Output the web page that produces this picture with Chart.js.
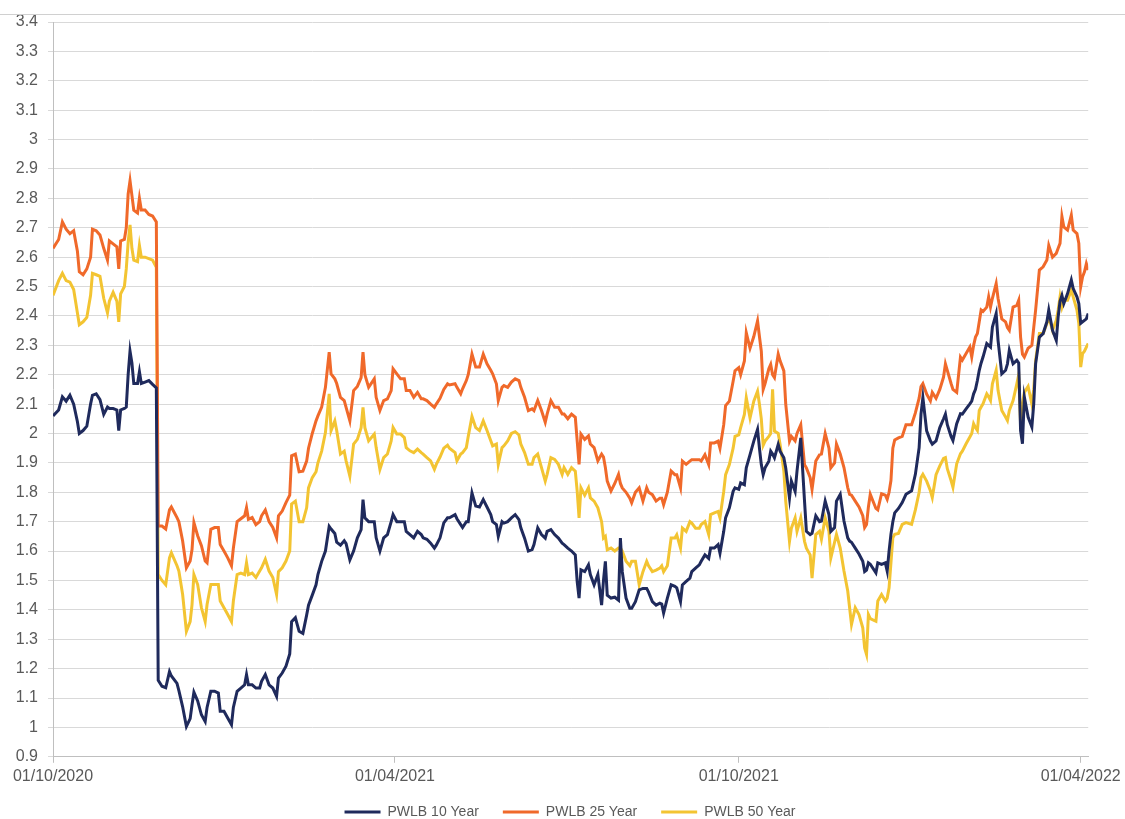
<!DOCTYPE html>
<html lang="en">
<head>
<meta charset="UTF-8" />
<title>PWLB rates</title>
<script src="https://cdn.jsdelivr.net/npm/chart.js"></script>
<style>
  body { margin: 0; background: #fff; }
  #wrap { position: relative; width: 1125px; height: 819px; }
  #topline { position: absolute; left: 0; top: 14px; width: 1125px; height: 1px; background: #d0d0d0; }
</style>
</head>
<body>
<div id="wrap">
  <div id="topline"></div>
  <canvas id="chart" width="1125" height="819"></canvas>
</div>
<script>
// days counted from 01/10/2020
const startDate = '01/10/2020';
const days = [
  0, 3, 5, 7, 9, 11, 13, 14, 16, 18, 20, 21, 23, 25, 27, 29, 30, 32, 34, 35, 36, 38, 39, 40, 41, 42, 43, 45, 46, 47, 49, 51, 53, 55,
  56, 58, 60, 62, 63, 66, 67, 69, 71, 73, 74, 75, 77, 79, 81, 82, 84, 86, 88, 89, 91, 93, 95, 96, 98, 100, 102, 103, 104, 106, 108, 110, 111, 113, 115, 117, 119, 120, 122, 124, 126, 127, 129, 131,
  133, 135, 136, 138, 140, 141, 143, 145, 147, 148, 150, 151, 153, 155, 156, 158, 160, 162, 164, 165, 166, 168, 171, 172, 174, 176, 178, 180, 181, 183, 185, 187, 188, 190, 192, 194, 196, 197, 199, 201, 203, 204, 206, 208, 210, 211, 214, 215, 217, 218, 220, 221, 223,
  225, 227, 229, 231, 233, 234, 236, 237, 239, 240, 242, 244, 246, 248, 249, 251, 253, 255, 256, 258, 260, 262, 263, 265, 267, 269, 271, 272, 274, 276, 278, 279, 280, 281, 283, 285, 286, 288, 290, 292, 293, 294, 295, 297, 299, 301, 302, 303, 305, 307, 308, 310, 312, 314, 316, 317, 319, 321,
  323, 324, 325, 327, 329, 331, 332, 334, 335, 337, 339, 340, 342, 344, 345, 347, 349, 350, 352, 354, 355, 357, 358, 360, 362, 363, 365, 366, 368, 369, 371, 373, 375, 376, 377, 378, 379, 381, 382, 383, 384, 386, 387, 389, 390, 392, 393, 395, 396, 398, 400, 401, 403, 404, 406, 408, 409, 411, 413, 414, 416, 417,
  419, 421, 423, 424, 425, 427, 429, 431, 432, 433, 434, 435, 438, 439, 441, 443, 444, 445, 446, 447, 448, 450, 452, 454, 457, 459, 461, 462, 463, 465, 467, 468, 470, 472,
  474, 475, 476, 478, 479, 481, 483, 484, 486, 488, 489, 490, 491, 492, 493, 494, 495, 497, 498, 499, 500, 502, 503, 505, 507, 508, 509, 511, 513, 514, 515, 516, 517, 519, 521, 522, 523, 525, 527, 529, 530, 532, 534, 535, 536, 537, 538, 540, 542, 543, 545, 546, 547, 548, 549, 550, 551
];

const pwlb10 = [
  2.06, 2.08, 2.125, 2.11, 2.13, 2.10, 2.04, 2.00, 2.01, 2.025, 2.10, 2.13, 2.135, 2.115, 2.065, 2.09, 2.085, 2.085, 2.08, 2.01, 2.08, 2.085, 2.09, 2.20, 2.28, 2.24, 2.17, 2.17, 2.21, 2.17, 2.175, 2.18, 2.167, 2.155,
  1.16, 1.14, 1.135, 1.19, 1.175, 1.15, 1.125, 1.07, 1.003, 1.03, 1.077, 1.12, 1.09, 1.043, 1.02, 1.068, 1.123, 1.123, 1.117, 1.055, 1.055, 1.032, 1.009, 1.068, 1.123, 1.134, 1.145, 1.18, 1.145, 1.145, 1.134, 1.134, 1.157, 1.18, 1.145, 1.134, 1.106, 1.168, 1.185, 1.208, 1.25, 1.36, 1.373, 1.327,
  1.32, 1.382, 1.416, 1.45, 1.485, 1.52, 1.565, 1.60, 1.684, 1.675, 1.66, 1.63, 1.62, 1.635, 1.625, 1.57, 1.60, 1.645, 1.673, 1.775, 1.713, 1.70, 1.70, 1.645, 1.60, 1.645, 1.656, 1.70, 1.724, 1.70, 1.70, 1.70, 1.667, 1.656, 1.645, 1.667, 1.656, 1.645, 1.64, 1.627, 1.61, 1.62, 1.645, 1.696, 1.713, 1.713, 1.724, 1.71, 1.69, 1.68, 1.70, 1.70, 1.798,
  1.753, 1.75, 1.775, 1.75, 1.724, 1.70, 1.69, 1.65, 1.70, 1.695, 1.70, 1.713, 1.724, 1.707, 1.679, 1.644, 1.60, 1.605, 1.622, 1.679, 1.656, 1.644, 1.667, 1.673, 1.656, 1.644, 1.627, 1.622, 1.61, 1.60, 1.587, 1.496, 1.44, 1.536, 1.53, 1.553, 1.52, 1.485, 1.52, 1.416, 1.50, 1.565, 1.45, 1.44, 1.443, 1.433, 1.644, 1.53, 1.44, 1.405, 1.405, 1.428, 1.468, 1.473, 1.473, 1.46, 1.428, 1.416,
  1.423, 1.42, 1.389, 1.44, 1.485, 1.48, 1.475, 1.428, 1.485, 1.497, 1.508, 1.53, 1.542, 1.553, 1.565, 1.587, 1.575, 1.61, 1.61, 1.622, 1.593, 1.667, 1.713, 1.747, 1.803, 1.815, 1.81, 1.832, 1.826, 1.883, 1.928, 1.974, 2.014, 1.95, 1.894, 1.86, 1.883, 1.906, 1.94, 1.93, 1.917, 1.963, 1.94, 1.917, 1.883, 1.78, 1.838, 1.803, 1.872, 1.985, 1.77, 1.667, 1.656, 1.66, 1.72, 1.70, 1.702, 1.77, 1.724, 1.667, 1.68, 1.77,
  1.793, 1.702, 1.645, 1.634, 1.63, 1.61, 1.59, 1.565, 1.53, 1.535, 1.56, 1.555, 1.526, 1.56, 1.555, 1.56, 1.532, 1.60, 1.657, 1.70, 1.73, 1.745, 1.765, 1.793, 1.805, 1.861, 1.952, 2.066, 2.122, 2.009, 1.975, 1.964, 1.975, 2.02,
  2.05, 2.066, 2.03, 1.99, 1.976, 2.033, 2.067, 2.066, 2.084, 2.101, 2.11, 2.135, 2.15, 2.18, 2.215, 2.24, 2.26, 2.306, 2.30, 2.294, 2.362, 2.408, 2.317, 2.203, 2.215, 2.237, 2.283, 2.237, 2.249, 2.24, 2.01, 1.965, 2.124, 2.056, 2.022, 2.101, 2.237, 2.328, 2.34, 2.38, 2.42, 2.351, 2.317, 2.397, 2.45, 2.47, 2.442, 2.476, 2.522, 2.493, 2.465, 2.442, 2.375, 2.38, 2.385, 2.39, 2.408
];

const pwlb25 = [
  2.63, 2.66, 2.72, 2.695, 2.68, 2.69, 2.62, 2.55, 2.54, 2.56, 2.60, 2.695, 2.69, 2.675, 2.63, 2.59, 2.655, 2.645, 2.635, 2.56, 2.655, 2.66, 2.70, 2.815, 2.86, 2.81, 2.76, 2.75, 2.80, 2.76, 2.76, 2.745, 2.74, 2.72,
  1.685, 1.685, 1.675, 1.74, 1.75, 1.714, 1.70, 1.634, 1.543, 1.566, 1.605, 1.697, 1.652, 1.618, 1.566, 1.56, 1.674, 1.68, 1.68, 1.622, 1.60, 1.577, 1.55, 1.61, 1.70, 1.71, 1.72, 1.748, 1.708, 1.714, 1.69, 1.70, 1.72, 1.74, 1.70, 1.68, 1.645, 1.72, 1.736, 1.765, 1.79, 1.924, 1.93, 1.87,
  1.872, 1.906, 1.95, 2.0, 2.043, 2.06, 2.09, 2.157, 2.277, 2.203, 2.186, 2.17, 2.123, 2.112, 2.089, 2.043, 2.146, 2.16, 2.19, 2.277, 2.20, 2.157, 2.186, 2.123, 2.078, 2.112, 2.118, 2.146, 2.22, 2.203, 2.186, 2.186, 2.146, 2.146, 2.123, 2.14, 2.118, 2.118, 2.112, 2.10, 2.089, 2.10, 2.12, 2.15, 2.169, 2.165, 2.169, 2.157, 2.135, 2.152, 2.18, 2.20, 2.27,
  2.226, 2.226, 2.27, 2.237, 2.215, 2.203, 2.169, 2.112, 2.157, 2.163, 2.157, 2.175, 2.186, 2.18, 2.157, 2.123, 2.078, 2.084, 2.078, 2.112, 2.078, 2.038, 2.066, 2.112, 2.089, 2.089, 2.066, 2.066, 2.05, 2.066, 2.055, 1.975, 1.895, 1.998, 1.98, 1.992, 1.964, 1.952, 1.907, 1.93, 1.92, 1.884, 1.838, 1.804, 1.83, 1.861, 1.83, 1.815, 1.80, 1.78, 1.764, 1.80, 1.815, 1.77, 1.815, 1.80, 1.792, 1.77,
  1.78, 1.78, 1.758, 1.80, 1.872, 1.86, 1.86, 1.815, 1.906, 1.895, 1.906, 1.911, 1.911, 1.911, 1.906, 1.928, 1.894, 1.968, 1.968, 1.974, 1.95, 2.03, 2.095, 2.11, 2.178, 2.213, 2.224, 2.20, 2.247, 2.343, 2.29, 2.33, 2.383, 2.33, 2.28, 2.15, 2.17, 2.22, 2.235, 2.20, 2.19, 2.27, 2.247, 2.213, 2.10, 1.974, 1.99, 1.975, 2.0, 2.03, 1.894, 1.883, 1.85, 1.81, 1.906, 1.928, 1.93, 2.0, 1.95, 1.883, 1.90, 1.964,
  1.93, 1.884, 1.816, 1.793, 1.79, 1.77, 1.75, 1.72, 1.68, 1.69, 1.75, 1.793, 1.745, 1.74, 1.795, 1.79, 1.776, 1.80, 1.84, 1.95, 1.978, 1.985, 1.99, 2.03, 2.03, 2.07, 2.12, 2.16, 2.17, 2.134, 2.111, 2.14, 2.12, 2.15,
  2.192, 2.237, 2.215, 2.17, 2.15, 2.14, 2.26, 2.25, 2.272, 2.294, 2.26, 2.30, 2.328, 2.34, 2.38, 2.42, 2.415, 2.43, 2.465, 2.43, 2.46, 2.51, 2.46, 2.39, 2.38, 2.36, 2.351, 2.43, 2.436, 2.453, 2.328, 2.27, 2.26, 2.29, 2.30, 2.36, 2.42, 2.556, 2.567, 2.59, 2.64, 2.60, 2.613, 2.63, 2.647, 2.738, 2.703, 2.692, 2.743, 2.692, 2.68, 2.647, 2.499, 2.533, 2.55, 2.578, 2.556
];

const pwlb50 = [
  2.47, 2.52, 2.545, 2.52, 2.515, 2.49, 2.41, 2.37, 2.38, 2.395, 2.47, 2.545, 2.54, 2.535, 2.46, 2.41, 2.45, 2.48, 2.45, 2.38, 2.475, 2.50, 2.56, 2.65, 2.71, 2.63, 2.59, 2.585, 2.64, 2.60, 2.60, 2.595, 2.59, 2.565,
  1.52, 1.50, 1.485, 1.577, 1.594, 1.55, 1.532, 1.452, 1.327, 1.36, 1.418, 1.52, 1.486, 1.407, 1.36, 1.418, 1.486, 1.486, 1.486, 1.43, 1.407, 1.384, 1.36, 1.43, 1.52, 1.525, 1.52, 1.56, 1.52, 1.525, 1.51, 1.532, 1.543, 1.572, 1.532, 1.51, 1.452, 1.53, 1.543, 1.566, 1.60, 1.76, 1.77, 1.70,
  1.70, 1.747, 1.815, 1.85, 1.87, 1.90, 1.94, 2.003, 2.135, 2.01, 2.043, 2.01, 1.93, 1.94, 1.907, 1.855, 1.964, 1.98, 2.02, 2.089, 2.02, 1.975, 1.998, 1.952, 1.878, 1.918, 1.93, 1.975, 2.02, 1.998, 1.998, 1.986, 1.952, 1.941, 1.935, 1.947, 1.935, 1.93, 1.918, 1.907, 1.878, 1.895, 1.92, 1.95, 1.96, 1.95, 1.935, 1.907, 1.93, 1.935, 1.952, 1.99, 2.058,
  2.02, 2.01, 2.043, 2.01, 1.975, 1.958, 1.964, 1.895, 1.952, 1.958, 1.975, 2.0, 2.006, 1.995, 1.964, 1.935, 1.895, 1.895, 1.918, 1.93, 1.884, 1.838, 1.861, 1.918, 1.912, 1.895, 1.861, 1.884, 1.861, 1.884, 1.872, 1.804, 1.713, 1.815, 1.79, 1.815, 1.781, 1.77, 1.747, 1.70, 1.644, 1.65, 1.604, 1.61, 1.60, 1.61, 1.61, 1.60, 1.565, 1.55, 1.565, 1.565, 1.485, 1.53, 1.565, 1.55, 1.53, 1.535,
  1.542, 1.55, 1.53, 1.55, 1.644, 1.644, 1.655, 1.61, 1.678, 1.667, 1.70, 1.695, 1.678, 1.678, 1.69, 1.70, 1.656, 1.724, 1.73, 1.735, 1.713, 1.803, 1.86, 1.894, 1.95, 1.99, 1.995, 2.02, 2.065, 2.122, 2.053, 2.11, 2.144, 2.10, 2.05, 1.96, 1.974, 1.99, 2.0, 2.15, 2.008, 2.0, 1.963, 1.872, 1.77, 1.633, 1.678, 1.713, 1.667, 1.713, 1.633, 1.61, 1.587, 1.508, 1.656, 1.667, 1.64, 1.713, 1.667, 1.576, 1.63, 1.657,
  1.61, 1.532, 1.464, 1.407, 1.35, 1.407, 1.384, 1.339, 1.27, 1.248, 1.384, 1.37, 1.361, 1.43, 1.452, 1.43, 1.44, 1.475, 1.56, 1.645, 1.657, 1.66, 1.691, 1.697, 1.691, 1.74, 1.80, 1.85, 1.861, 1.838, 1.805, 1.782, 1.86, 1.89,
  1.915, 1.918, 1.88, 1.84, 1.817, 1.897, 1.931, 1.94, 1.965, 1.988, 2.0, 2.033, 2.02, 2.01, 2.078, 2.09, 2.101, 2.135, 2.125, 2.112, 2.169, 2.215, 2.147, 2.078, 2.056, 2.044, 2.078, 2.112, 2.169, 2.20, 2.033, 2.10, 2.14, 2.16, 2.10, 2.15, 2.249, 2.34, 2.34, 2.374, 2.397, 2.351, 2.385, 2.42, 2.465, 2.43, 2.453, 2.453, 2.488, 2.465, 2.42, 2.374, 2.226, 2.272, 2.28, 2.294, 2.306
];

const tickDates = ['01/10/2020', '01/04/2021', '01/10/2021', '01/04/2022'];
const yTicks = [0.9, 1, 1.1, 1.2, 1.3, 1.4, 1.5, 1.6, 1.7, 1.8, 1.9, 2, 2.1, 2.2, 2.3, 2.4, 2.5, 2.6, 2.7, 2.8, 2.9, 3, 3.1, 3.2, 3.3, 3.4];

function toUTC(s) {
  const [d, m, y] = s.split('/').map(Number);
  return Date.UTC(y, m - 1, d);
}
const day0 = toUTC(startDate);
const tickDays = tickDates.map(s => Math.round((toUTC(s) - day0) / 86400000));

const font = { family: '"Liberation Sans", Arial, sans-serif', size: 16 };
const textColor = '#595959';

function series(label, values, color) {
  return {
    label: label,
    data: days.map((d, i) => ({ x: d, y: values[i] })),
    borderColor: color,
    backgroundColor: color,
    borderWidth: 3,
    pointRadius: 0,
    tension: 0
  };
}

// legend sits a bit right of centre in the original
const legendShift = {
  id: 'legendShift',
  afterLayout(chart) { chart.legend.left += 50; }
};

new Chart(document.getElementById('chart'), {
  type: 'line',
  data: {
    datasets: [
      series('PWLB 10 Year', pwlb10, '#1f2a5c'),
      series('PWLB 25 Year', pwlb25, '#f0692a'),
      series('PWLB 50 Year', pwlb50, '#f3c432')
    ]
  },
  plugins: [legendShift],
  options: {
    responsive: false,
    animation: false,
    layout: { padding: { left: 0, right: 35, top: 22, bottom: -10 } },
    plugins: {
      tooltip: { enabled: false },
      legend: {
        position: 'bottom',
        labels: {
          usePointStyle: true,
          pointStyle: 'line',
          pointStyleWidth: 36,
          padding: 24,
          color: textColor,
          font: { family: font.family, size: 14 }
        }
      }
    },
    scales: {
      x: {
        type: 'linear',
        min: 0,
        max: days[days.length - 1],
        afterBuildTicks: s => { s.ticks = tickDays.map(v => ({ value: v })); },
        afterFit: s => { s.height = s.height - 9; },
        ticks: {
          autoSkip: false,
          maxRotation: 0,
          padding: 4,
          color: textColor,
          font: font,
          callback: v => tickDates[tickDays.indexOf(v)]
        },
        grid: { drawOnChartArea: false, tickLength: 6, color: '#bfbfbf' },
        border: { color: '#bfbfbf' }
      },
      y: {
        min: 0.9,
        max: 3.4,
        afterBuildTicks: s => { s.ticks = yTicks.map(v => ({ value: v })); },
        afterFit: s => { s.width = 53; },
        ticks: {
          padding: 10,
          color: textColor,
          font: font,
          callback: v => String(Number(v.toFixed(1)))
        },
        grid: { color: '#d9d9d9', tickLength: 5 },
        border: { color: '#bfbfbf' }
      }
    }
  }
});
</script>
</body>
</html>
